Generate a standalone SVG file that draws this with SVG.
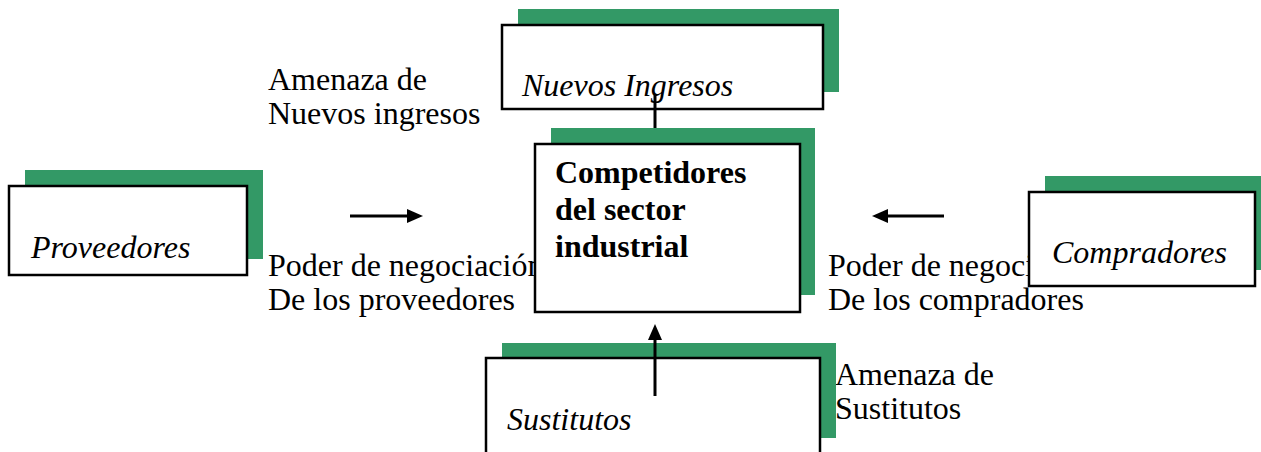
<svg xmlns="http://www.w3.org/2000/svg" width="1261" height="452" viewBox="0 0 1261 452">
<defs>
<style>
.sh{fill:#339966;}
.bx{fill:#fff;stroke:#000;stroke-width:2.5;}
.t{font-family:"Liberation Serif","Times New Roman",serif;font-size:32px;fill:#000;}
.it{font-style:italic;}
.b{font-weight:bold;}
.ln{stroke:#000;stroke-width:3;fill:none;}
.hd{fill:#000;stroke:none;}
</style>
</defs>
<rect width="1261" height="452" fill="#fff"/>
<g id="labels">
<text class="t" x="268" y="90">Amenaza de</text>
<text class="t" x="268" y="124">Nuevos ingresos</text>
<text class="t" x="268" y="276">Poder de negociación</text>
<text class="t" x="268" y="310">De los proveedores</text>
<text class="t" x="828" y="276">Poder de negoci</text>
<text class="t" x="828" y="310">De los compradores</text>
<text class="t" x="835" y="385">Amenaza de</text>
<text class="t" x="835" y="419">Sustitutos</text>
</g>
<g id="nuevos">
<rect class="sh" x="518" y="9" width="321" height="83"/>
<rect class="bx" x="502" y="25" width="321" height="84"/>
<text class="t it" x="522" y="96">Nuevos Ingresos</text>
</g>
<g id="proveedores">
<rect class="sh" x="25" y="170" width="238" height="89"/>
<rect class="bx" x="9" y="186" width="238" height="89"/>
<text class="t it" x="31" y="258">Proveedores</text>
</g>
<g id="compradores">
<rect class="sh" x="1045" y="176" width="216" height="94"/>
<rect class="bx" x="1029" y="192" width="226" height="94"/>
<text class="t it" x="1052" y="263">Compradores</text>
</g>
<g id="sustitutos">
<rect class="sh" x="502" y="343" width="334" height="95"/>
<rect class="bx" x="486" y="358" width="334" height="100"/>
<text class="t it" x="507" y="430">Sustitutos</text>
</g>
<g id="connectors">
<line class="ln" x1="655" y1="95" x2="655" y2="128"/>
<line class="ln" x1="350" y1="216" x2="410" y2="216"/>
<path class="hd" d="M423,216 L407,209 L407,223 z"/>
<line class="ln" x1="944" y1="216" x2="885" y2="216"/>
<path class="hd" d="M872,216 L888,209 L888,223 z"/>
<line class="ln" x1="655" y1="396" x2="655" y2="337"/>
<path class="hd" d="M655,324 L648,340 L662,340 z"/>
</g>
<g id="competidores">
<rect class="sh" x="551" y="128" width="264" height="167"/>
<rect class="bx" x="535" y="144" width="265" height="168"/>
<text class="t b" x="555" y="183">Competidores</text>
<text class="t b" x="555" y="220">del sector</text>
<text class="t b" x="555" y="257">industrial</text>
</g>
</svg>
